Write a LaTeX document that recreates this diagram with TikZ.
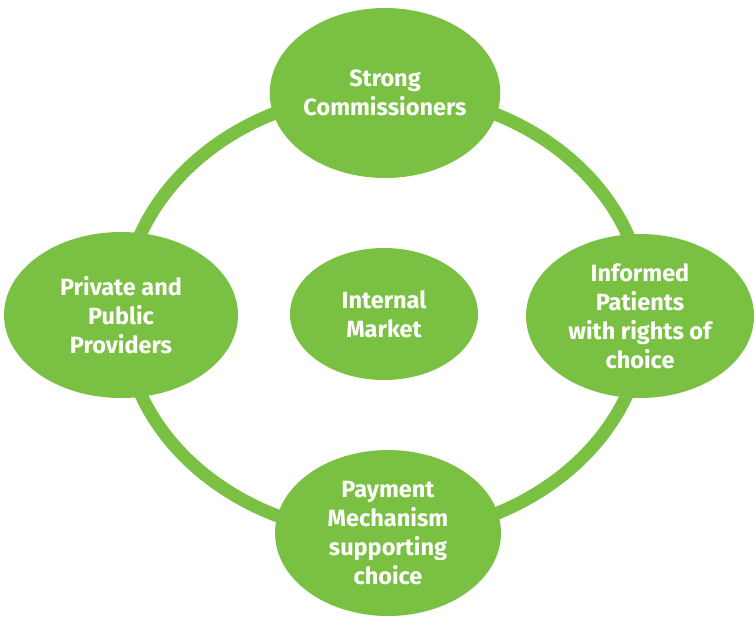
\documentclass[tikz,border=0pt]{standalone}
\usepackage{fontspec}
\setmainfont{Fira Sans}
\usetikzlibrary{shapes.geometric}
\definecolor{leaf}{HTML}{7AC143}
\tikzset{
  blob/.style={ellipse, fill=leaf, inner sep=0pt, text=white, align=center,
    font=\fontsize{23.5}{29}\selectfont\bfseries},
  ring/.style={draw=leaf, line width=13pt}
}
\begin{document}
\begin{tikzpicture}[x=1pt,y=-1pt]
\useasboundingbox (0,0) rectangle (754,616);
\coordinate (c) at (384,314);
\draw[ring] (c) ellipse [x radius=261, y radius=221];
\node[blob, minimum width=230pt, minimum height=170pt] (top) at (385,93) {Strong\\Commissioners};
\node[blob, minimum width=234pt, minimum height=166pt] (left) at (121,315) {Private and\\Public\\Providers};
\node[blob, minimum width=228pt, minimum height=164pt] (right) at (640,316) {Informed\\Patients\\with rights of\\choice};
\node[blob, minimum width=226pt, minimum height=166pt] (bottom) at (388,533) {Payment\\Mechanism\\supporting\\choice};
\node[blob, minimum width=188pt, minimum height=132pt] (mid) at (384,314) {Internal\\Market};
\end{tikzpicture}
\end{document}
